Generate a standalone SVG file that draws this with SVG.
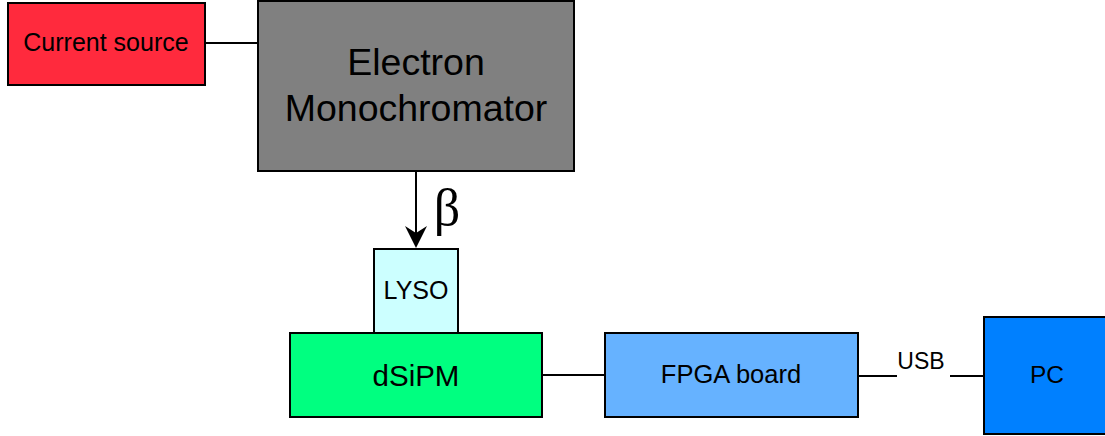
<svg xmlns="http://www.w3.org/2000/svg" width="1105" height="436" viewBox="0 0 1105 436">
<defs>
<style>
.box{stroke:#000;stroke-width:2}
.t{font-family:"Liberation Sans",Arial,sans-serif;fill:#000;text-anchor:middle;dominant-baseline:central}
.ln{stroke:#000;stroke-width:2;fill:none}
</style>
</defs>
<rect width="1105" height="436" fill="#fff"/>
<g id="connectors">
<line class="ln" x1="205" y1="43" x2="258" y2="43"/>
<path d="M416,171 L416,240" stroke="#000" stroke-width="2" fill="none"/>
<path d="M405,226 L416,248 L427,226 L416,233 Z" fill="#000"/>
<text x="447" y="207" font-family="'Liberation Serif','Times New Roman',serif" font-size="52" text-anchor="middle" dominant-baseline="central">β</text>
<line class="ln" x1="542" y1="375" x2="605" y2="375"/>
<line class="ln" x1="858" y1="376" x2="897" y2="376"/>
<line class="ln" x1="950" y1="376" x2="984" y2="376"/>
<text class="t" x="921" y="361" font-size="23">USB</text>
</g>
<g id="current-source">
<rect class="box" x="8" y="3" width="197" height="82" fill="#ff2a3d"/>
<text class="t" x="106" y="42" font-size="25">Current source</text>
</g>
<g id="electron-monochromator">
<rect class="box" x="258" y="1" width="316" height="170" fill="#808080"/>
<text class="t" x="416" y="62" font-size="37.5">Electron</text>
<text class="t" x="416" y="108" font-size="37.5">Monochromator</text>
</g>
<g id="lyso">
<rect class="box" x="374" y="249" width="84" height="84" fill="#ccffff"/>
<text class="t" x="416" y="290" font-size="25">LYSO</text>
</g>
<g id="dsipm">
<rect class="box" x="290" y="333" width="252" height="84" fill="#00ff80"/>
<text class="t" x="416" y="375" font-size="29.5">dSiPM</text>
</g>
<g id="fpga">
<rect class="box" x="605" y="333" width="253" height="84" fill="#66b2ff"/>
<text class="t" x="731" y="374" font-size="25.5">FPGA board</text>
</g>
<g id="pc">
<rect class="box" x="984" y="317" width="130" height="117" fill="#0080ff"/>
<text class="t" x="1047" y="374" font-size="24.5">PC</text>
</g>
</svg>
